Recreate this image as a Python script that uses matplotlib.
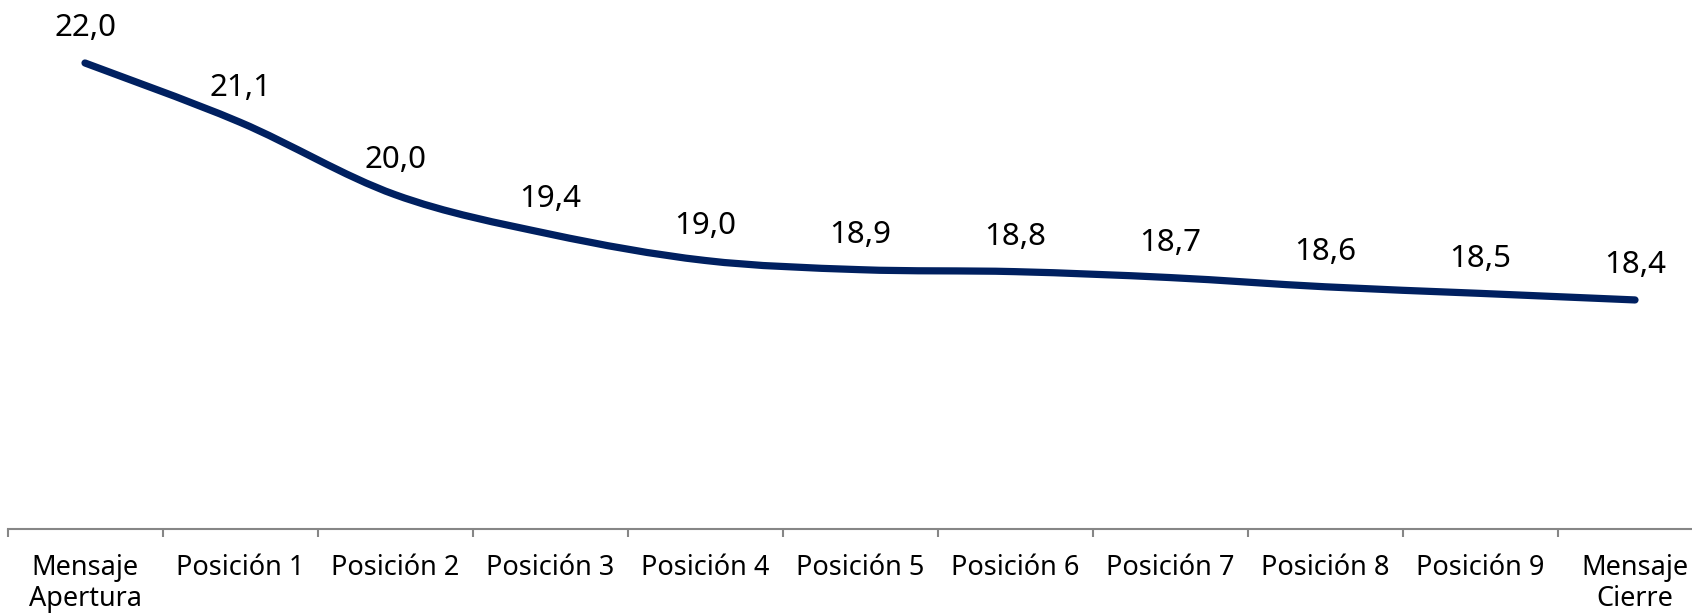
import matplotlib
matplotlib.use("Agg")
import matplotlib.pyplot as plt
from matplotlib.path import Path
from matplotlib.patches import PathPatch
import numpy as np

categories = ["Mensaje\nApertura", "Posición 1", "Posición 2", "Posición 3", "Posición 4",
              "Posición 5", "Posición 6", "Posición 7", "Posición 8", "Posición 9",
              "Mensaje\nCierre"]
values = [22.0, 21.1, 20.0, 19.4, 19.0, 18.86, 18.83, 18.74, 18.60, 18.50, 18.4]
labels = ["22,0", "21,1", "20,0", "19,4", "19,0", "18,9", "18,8", "18,7", "18,6", "18,5", "18,4"]

plt.rcParams['font.family'] = ['Noto Sans', 'DejaVu Sans']

W, H, DPI = 1692, 613, 100
fig = plt.figure(figsize=(W / DPI, H / DPI), dpi=DPI)
left_px, axis_px = 7.5, 529
ax = fig.add_axes([left_px / W, (H - axis_px) / H, (W - left_px) / W, axis_px / H])

x = np.arange(len(values), dtype=float)
y = np.array(values, dtype=float)

# Excel-style smoothed line (Bezier with 1/6 tangents)
n = len(x)
verts = [(x[0], y[0])]
codes = [Path.MOVETO]
for i in range(n - 1):
    p0 = np.array([x[max(i - 1, 0)], y[max(i - 1, 0)]])
    p1 = np.array([x[i], y[i]])
    p2 = np.array([x[i + 1], y[i + 1]])
    p3 = np.array([x[min(i + 2, n - 1)], y[min(i + 2, n - 1)]])
    c1 = p1 + (p2 - p0) / 6.0
    c2 = p2 - (p3 - p1) / 6.0
    verts += [tuple(c1), tuple(c2), tuple(p2)]
    codes += [Path.CURVE4] * 3
patch = PathPatch(Path(verts, codes), facecolor='none', edgecolor='#002060',
                  linewidth=5.2, capstyle='round', joinstyle='round')
ax.add_patch(patch)

for xi, yi, lab in zip(x, y, labels):
    ax.annotate(lab, (xi, yi), xytext=(0, 19.2), textcoords='offset points',
                ha='center', va='baseline', fontsize=22.5, color='black')

ax.set_xlim(-0.5, -0.5 + (W - left_px) / 155.0)
ax.set_ylim(14.92, 22.957)

for s in ['top', 'right', 'left']:
    ax.spines[s].set_visible(False)
ax.spines['bottom'].set_color('#868686')
ax.spines['bottom'].set_linewidth(1.5)
ax.set_yticks([])

ax.set_xticks(x)
ax.set_xticklabels(categories, fontsize=19.5, color='black', linespacing=1.15)
ax.set_xticks(np.arange(-0.5, len(values) - 0.5, 1.0), minor=True)
ax.tick_params(axis='x', which='major', length=0, pad=18)
ax.tick_params(axis='x', which='minor', length=6, width=1.5, color='#868686', direction='out')

fig.savefig("out.png", dpi=DPI)
